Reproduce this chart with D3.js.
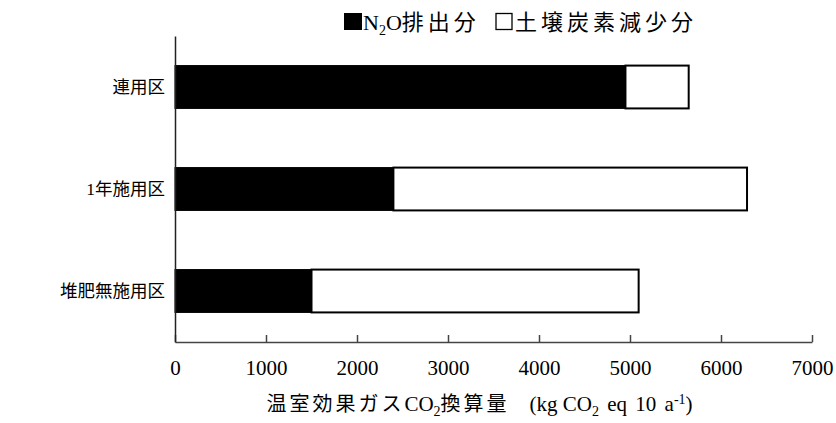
<!DOCTYPE html>
<html>
<head>
<meta charset="utf-8">
<script src="https://cdn.jsdelivr.net/npm/d3@7"></script>
<style>
  html, body { margin: 0; padding: 0; background: #fff; }
  svg text { font-family: "Liberation Serif", "Noto Sans CJK JP", serif; fill: #000; }
</style>
</head>
<body>
<svg id="chart" width="836" height="423"></svg>
<script>
// Treatment plots (top to bottom)
const categories = ["連用区", "1年施用区", "堆肥無施用区"];
// N2O emissions, kg CO2 eq per 10 a
const n2oValues = [4950, 2400, 1500];
// Soil carbon loss, kg CO2 eq per 10 a
const soilCarbonValues = [695, 3886, 3595];
const xTicks = [0, 1000, 2000, 3000, 4000, 5000, 6000, 7000];

const svg = d3.select("#chart");
const margin = { left: 175, right: 24, top: 36, bottom: 81 };
const W = 836, H = 423;

const x = d3.scaleLinear().domain([0, 7000]).range([margin.left, W - margin.right]);
const y = d3.scaleBand().domain(categories)
  .range([margin.top, H - margin.bottom])
  .paddingInner(0.58).paddingOuter(0.29);

const rows = categories.map((c, i) => ({
  cat: c, n2o: n2oValues[i], soil: soilCarbonValues[i]
}));

// White segment: soil carbon loss, stacked after N2O
svg.append("g").selectAll("rect").data(rows).join("rect")
  .attr("x", d => x(d.n2o))
  .attr("y", d => y(d.cat))
  .attr("width", d => x(d.n2o + d.soil) - x(d.n2o))
  .attr("height", y.bandwidth())
  .attr("fill", "#fff").attr("stroke", "#000").attr("stroke-width", 2);

// Black segment: N2O emissions
svg.append("g").selectAll("rect").data(rows).join("rect")
  .attr("x", x(0))
  .attr("y", d => y(d.cat))
  .attr("width", d => x(d.n2o) - x(0))
  .attr("height", y.bandwidth())
  .attr("fill", "#000").attr("stroke", "#000").attr("stroke-width", 1);

// X axis with inward ticks
const xAxis = svg.append("g")
  .attr("transform", `translate(0,${H - margin.bottom})`)
  .call(d3.axisBottom(x).tickValues(xTicks).tickSize(-7).tickSizeOuter(0).tickPadding(18).tickFormat(d3.format("d")));
xAxis.select(".domain").attr("stroke", "#444").attr("stroke-width", 1.5);
xAxis.selectAll(".tick line").attr("stroke", "#444").attr("stroke-width", 1.5);
xAxis.selectAll(".tick text").attr("font-size", 21).attr("font-family", "Liberation Serif");

// Y axis: line and category labels only
const yAxis = svg.append("g")
  .attr("transform", `translate(${margin.left},0)`)
  .call(d3.axisLeft(y).tickSize(0).tickPadding(10));
yAxis.select(".domain").attr("stroke", "#222").attr("stroke-width", 1.5);
yAxis.selectAll(".tick text").attr("font-size", 17.5);

// Legend: swatches and labels
const legendY = 30;
svg.append("rect").attr("x", 344).attr("y", 13).attr("width", 18).attr("height", 17).attr("fill", "#000");
svg.append("rect").attr("x", 496).attr("y", 13.5).attr("width", 16).attr("height", 16)
  .attr("fill", "#fff").attr("stroke", "#000").attr("stroke-width", 1.3);

const leg1 = svg.append("text").attr("x", 363).attr("y", legendY).attr("font-size", 22);
leg1.append("tspan").text("N");
leg1.append("tspan").attr("font-size", 14).attr("dy", 5).text("2");
leg1.append("tspan").attr("dy", -5).text("O");
leg1.append("tspan").attr("letter-spacing", 4).text("排出分");

svg.append("text").attr("x", 515).attr("y", legendY).attr("font-size", 22)
  .attr("letter-spacing", 4)
  .text("土壌炭素減少分");

// X axis title (CJK runs slightly spaced, Latin runs set normally)
const title = svg.append("text").attr("x", (x(0) + x(7000)) / 2 - 14).attr("y", 411)
  .attr("text-anchor", "middle").attr("font-size", 20);
title.append("tspan").attr("letter-spacing", 3).text("温室効果ガス");
title.append("tspan").attr("font-size", 21).text("CO");
title.append("tspan").attr("font-size", 14).attr("dy", 5).text("2");
title.append("tspan").attr("dy", -5).attr("letter-spacing", 3).text("換算量");
title.append("tspan").attr("dx", 20).attr("font-size", 21).text("(kg CO");
title.append("tspan").attr("font-size", 14).attr("dy", 5).text("2");
title.append("tspan").attr("font-size", 21).attr("dy", -5).attr("word-spacing", 3).text(" eq 10 a");
title.append("tspan").attr("font-size", 14).attr("dy", -7).text("-1");
title.append("tspan").attr("font-size", 21).attr("dy", 7).text(")");
</script>
</body>
</html>
